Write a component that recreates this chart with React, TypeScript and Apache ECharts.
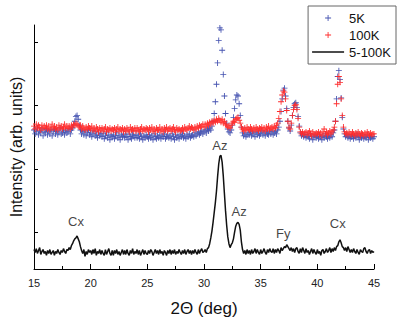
import React, { useEffect, useRef } from "react";
import * as echarts from "echarts";

// 2-theta sampling grid (deg): 15.0 .. 45.0 every 0.1
const ANGLE_START = 15;
const ANGLE_STEP = 0.1;

// 5-100K difference (arb. units)
const diff5to100K: number[] = [
  20, 17, 21, 16, 19, 22, 15, 18, 20, 16, // 15
  18, 14, 19, 16, 20, 15, 17, 19, 14, 18, // 16
  16, 20, 17, 15, 19, 17, 21, 18, 16, 20, // 17
  19, 22, 20, 24, 26, 29, 31, 32, 34, 31, // 18
  28, 23, 19, 16, 20, 13, 18, 15, 20, 17, // 19
  19, 15, 20, 16, 21, 14, 18, 16, 20, 15, // 20
  19, 16, 14, 20, 15, 18, 21, 16, 14, 19, // 21
  14, 19, 16, 20, 15, 18, 14, 17, 20, 15, // 22
  19, 15, 20, 16, 14, 19, 16, 21, 15, 18, // 23
  16, 20, 15, 19, 14, 17, 20, 15, 19, 16, // 24
  15, 19, 16, 20, 18, 14, 17, 20, 16, 19, // 25
  15, 20, 16, 18, 14, 19, 17, 14, 19, 16, // 26
  20, 15, 19, 16, 20, 15, 18, 16, 20, 17, // 27
  15, 19, 16, 20, 15, 18, 20, 16, 19, 15, // 28
  19, 16, 20, 17, 15, 20, 16, 19, 21, 17, // 29
  18, 20, 17, 21, 22, 26, 32, 39, 48, 58, // 30
  68, 80, 95, 108, 116, 117, 110, 96, 78, 60, // 31
  45, 33, 26, 22, 25, 27, 31, 38, 44, 47, // 32
  48, 46, 40, 28, 20, 16, 19, 15, 20, 16, // 33
  19, 15, 20, 16, 18, 21, 16, 20, 17, 15, // 34
  20, 16, 18, 21, 17, 15, 20, 17, 21, 18, // 35
  17, 21, 16, 20, 17, 21, 19, 16, 22, 19, // 36
  21, 23, 22, 25, 23, 21, 19, 22, 18, 21, // 37
  17, 21, 22, 18, 16, 21, 17, 22, 19, 16, // 38
  21, 17, 19, 15, 18, 21, 16, 20, 17, 15, // 39
  20, 16, 18, 14, 19, 20, 16, 18, 21, 17, // 40
  19, 22, 17, 21, 18, 22, 19, 23, 24, 28, // 41
  30, 27, 23, 22, 19, 22, 18, 23, 20, 17, // 42
  20, 17, 21, 18, 16, 20, 17, 15, 20, 18, // 43
  17, 21, 22, 18, 16, 19, 20, 16, 19, 17, // 44
  18,
];

// 5K scan (arb. units, offset)
const scan5K: number[] = [
  143, 139, 141, 145, 138, 142, 140, 144, 137, 141, // 15
  140, 144, 138, 142, 139, 143, 137, 141, 144, 139, // 16
  142, 138, 141, 145, 139, 140, 143, 138, 142, 140, // 17
  141, 144, 139, 143, 145, 148, 152, 157, 158, 154, // 18
  148, 143, 139, 142, 138, 141, 137, 140, 143, 138, // 19
  140, 136, 139, 142, 137, 138, 135, 140, 137, 139, // 20
  136, 139, 134, 137, 140, 135, 138, 133, 137, 136, // 21
  138, 134, 137, 140, 135, 137, 133, 138, 136, 139, // 22
  135, 138, 136, 133, 139, 136, 134, 138, 137, 135, // 23
  138, 135, 137, 134, 139, 136, 133, 137, 135, 138, // 24
  136, 134, 138, 135, 137, 133, 139, 136, 134, 137, // 25
  135, 138, 134, 137, 136, 139, 134, 136, 138, 135, // 26
  137, 134, 139, 136, 133, 138, 135, 137, 134, 138, // 27
  136, 139, 135, 137, 134, 138, 136, 139, 135, 137, // 28
  138, 136, 140, 137, 139, 141, 138, 140, 142, 139, // 29
  141, 143, 140, 144, 142, 145, 143, 147, 152, 160, // 30
  172, 190, 212, 235, 248, 246, 225, 200, 178, 160, // 31
  150, 144, 141, 140, 143, 148, 156, 165, 174, 179, // 32
  178, 170, 158, 146, 140, 137, 139, 136, 138, 140, // 33
  138, 141, 137, 140, 139, 136, 141, 138, 140, 137, // 34
  139, 142, 138, 140, 137, 141, 139, 138, 142, 139, // 35
  141, 138, 140, 142, 139, 143, 146, 152, 162, 175, // 36
  184, 186, 178, 165, 152, 145, 142, 148, 158, 166, // 37
  170, 171, 166, 157, 147, 140, 137, 139, 136, 138, // 38
  135, 138, 136, 134, 139, 137, 133, 136, 138, 135, // 39
  137, 134, 138, 136, 133, 137, 135, 139, 136, 134, // 40
  137, 135, 138, 136, 140, 143, 152, 175, 198, 204, // 41
  195, 176, 156, 144, 139, 136, 138, 135, 137, 134, // 42
  136, 138, 134, 137, 135, 139, 136, 133, 137, 135, // 43
  138, 134, 136, 135, 138, 133, 137, 135, 136, 134, // 44
  136,
];

// 100K scan (arb. units, offset)
const scan100K: number[] = [
  147, 144, 149, 145, 148, 146, 143, 148, 145, 147, // 15
  145, 148, 144, 147, 143, 146, 149, 145, 147, 144, // 16
  146, 143, 148, 145, 147, 144, 146, 149, 145, 147, // 17
  145, 147, 144, 148, 146, 149, 148, 150, 149, 147, // 18
  146, 148, 144, 147, 145, 143, 146, 144, 147, 145, // 19
  144, 147, 143, 145, 142, 146, 144, 141, 145, 143, // 20
  145, 142, 144, 146, 141, 144, 143, 145, 142, 144, // 21
  143, 145, 141, 144, 146, 142, 144, 143, 145, 141, // 22
  144, 142, 145, 143, 141, 146, 143, 144, 142, 145, // 23
  142, 145, 143, 141, 144, 146, 142, 144, 143, 145, // 24
  144, 141, 145, 143, 146, 142, 144, 141, 145, 143, // 25
  143, 146, 142, 144, 141, 145, 143, 146, 142, 144, // 26
  145, 142, 144, 146, 143, 141, 145, 143, 144, 142, // 27
  143, 145, 142, 146, 144, 143, 145, 147, 144, 146, // 28
  145, 143, 146, 144, 147, 145, 148, 146, 147, 149, // 29
  146, 149, 147, 150, 148, 151, 149, 152, 150, 153, // 30
  151, 154, 152, 155, 153, 151, 154, 150, 152, 149, // 31
  148, 146, 147, 145, 148, 150, 152, 151, 154, 155, // 32
  156, 153, 150, 146, 144, 142, 145, 143, 146, 144, // 33
  143, 146, 144, 142, 145, 143, 146, 144, 142, 145, // 34
  144, 146, 143, 145, 142, 146, 144, 147, 143, 145, // 35
  146, 144, 147, 145, 148, 150, 155, 162, 172, 179, // 36
  183, 182, 175, 163, 152, 146, 144, 150, 158, 164, // 37
  168, 169, 164, 155, 146, 141, 139, 141, 138, 140, // 38
  141, 138, 140, 142, 139, 137, 141, 139, 138, 140, // 39
  139, 141, 138, 140, 137, 141, 144, 139, 141, 138, // 40
  140, 142, 139, 141, 143, 146, 152, 170, 190, 198, // 41
  192, 175, 158, 146, 141, 139, 140, 138, 141, 139, // 42
  138, 141, 139, 137, 140, 138, 141, 139, 137, 140, // 43
  139, 137, 140, 138, 141, 139, 137, 140, 138, 139, // 44
  139,
];

// Phase annotations on the difference curve
const peakLabels: string[] = ["Cx", "Az", "Az", "Fy", "Cx"];
const peakLabelAngles: number[] = [18.7, 31.4, 33.1, 37.0, 41.8];
const peakLabelHeights: number[] = [49, 127, 59, 37, 47];

const yTickValues: number[] = [38, 103, 168, 233];

const FONT = "'Liberation Sans', Arial, Helvetica, sans-serif";
const PLUS = "path://M3,0h1v3h3v1h-3v3h-1v-3h-3v-1h3z";
const LINE_ICON = "path://M0,0h32v1.6h-32z";

function toPairs(values: number[]): [number, number][] {
  return values.map((v, i) => [+(ANGLE_START + i * ANGLE_STEP).toFixed(1), v]);
}

export default function App() {
  const ref = useRef<HTMLDivElement>(null);

  useEffect(() => {
    if (!ref.current) return;
    const chart = echarts.init(ref.current, undefined, { renderer: "svg" });
    chart.setOption({
      animation: false,
      backgroundColor: "#ffffff",
      grid: { left: 33, right: 26, top: 25, bottom: 46 },
      legend: {
        data: [
          { name: "5K" },
          { name: "100K" },
          { name: "5-100K", icon: LINE_ICON },
        ],
        orient: "vertical",
        right: 4,
        top: 6,
        itemWidth: 32,
        itemHeight: 6,
        itemGap: 1,
        padding: [4, 5, 4, 4],
        borderColor: "#666",
        borderWidth: 1,
        borderRadius: 0,
        textStyle: { fontSize: 13, color: "#111", fontFamily: FONT, lineHeight: 16 },
      },
      xAxis: {
        type: "value",
        min: 15,
        max: 45,
        interval: 5,
        name: "2Θ (deg)",
        nameLocation: "middle",
        nameGap: 31,
        nameTextStyle: { fontSize: 17, color: "#111", fontFamily: FONT },
        axisLine: { lineStyle: { color: "#000", width: 1 } },
        axisTick: { inside: true, length: 5, lineStyle: { color: "#000" } },
        minorTick: { show: true, splitNumber: 2, length: 3, lineStyle: { color: "#000" } },
        splitLine: { show: false },
        axisLabel: { fontSize: 11, color: "#222", margin: 8, fontFamily: FONT },
      },
      yAxis: {
        type: "value",
        min: 0,
        max: 251,
        name: "Intensity (arb. units)",
        nameLocation: "middle",
        nameGap: 10,
        nameTextStyle: { fontSize: 16, color: "#111", fontFamily: FONT },
        axisLine: { show: true, lineStyle: { color: "#000", width: 1 } },
        axisTick: {
          show: true,
          inside: true,
          length: 4,
          customValues: yTickValues,
          lineStyle: { color: "#000" },
        },
        axisLabel: { show: false },
        splitLine: { show: false },
      },
      series: [
        {
          name: "5K",
          type: "scatter",
          data: toPairs(scan5K),
          symbol: PLUS,
          symbolSize: 6,
          itemStyle: { color: "#4452b0", opacity: 1 },
          silent: true,
        },
        {
          name: "100K",
          type: "scatter",
          data: toPairs(scan100K),
          symbol: PLUS,
          symbolSize: 6,
          itemStyle: { color: "#ff2b2b", opacity: 1 },
          silent: true,
        },
        {
          name: "5-100K",
          type: "line",
          data: toPairs(diff5to100K),
          symbol: "none",
          showSymbol: false,
          lineStyle: { color: "#111", width: 1.5 },
          itemStyle: { color: "#111" },
          silent: true,
        },
        {
          name: "labels",
          type: "scatter",
          data: peakLabels.map((t, i) => [peakLabelAngles[i], peakLabelHeights[i], t]),
          symbol: "circle",
          symbolSize: 1,
          itemStyle: { color: "rgba(0,0,0,0)" },
          silent: true,
          label: {
            show: true,
            position: "inside",
            formatter: (p: any) => p.data[2],
            fontSize: 13,
            color: "#111",
            fontFamily: FONT,
          },
        },
      ],
    });
    return () => chart.dispose();
  }, []);

  return (
    <div
      ref={ref}
      style={{ position: "fixed", left: 0, top: 0, width: 400, height: 322, background: "#fff" }}
    />
  );
}
